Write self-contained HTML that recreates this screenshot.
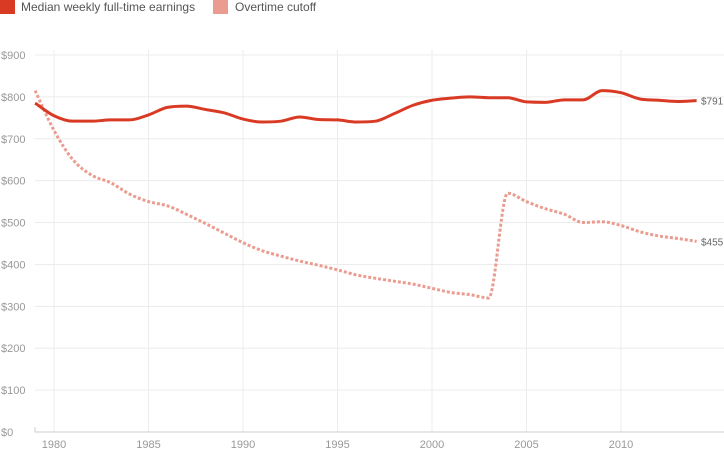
<!DOCTYPE html>
<html><head><meta charset="utf-8"><style>
body{margin:0;background:#fff;font-family:"Liberation Sans",sans-serif}
svg text{font-family:"Liberation Sans",sans-serif}
</style></head><body>
<svg id="c" width="724" height="450">
<g>
<rect x="0" y="0" width="15" height="14" fill="#d93a24"/>
<text x="21" y="11" font-size="12" fill="#555">Median weekly full-time earnings</text>
<rect x="213" y="0" width="15" height="14" fill="#eb9c90"/>
<text x="235" y="11" font-size="12" fill="#555">Overtime cutoff</text>
</g>
<g id="grid"></g>
<g id="series"></g>
</svg>
<script>
const years=[1979,1980,1981,1982,1983,1984,1985,1986,1987,1988,1989,1990,1991,1992,1993,1994,1995,1996,1997,1998,1999,2000,2001,2002,2003,2004,2005,2006,2007,2008,2009,2010,2011,2012,2013,2014];
const median=[785,755,742,742,745,745,757,775,778,770,762,747,740,742,752,746,745,740,742,760,780,792,797,800,798,798,788,787,793,793,815,810,795,792,789,791];
const overtime=[815,720,650,613,595,568,550,540,520,498,475,452,433,420,408,398,387,375,367,360,353,343,333,328,320,570,550,533,520,500,502,493,478,468,462,455];
const yTicks=[0,100,200,300,400,500,600,700,800,900];
const xTicks=[1980,1985,1990,1995,2000,2005,2010];
const NS='http://www.w3.org/2000/svg';
const x=v=>54+(v-1980)*18.9;
const y=v=>432-v*(377/900);
function mk(t,a,p){const e=document.createElementNS(NS,t);for(const k in a)e.setAttribute(k,a[k]);p.appendChild(e);return e;}
const g=document.getElementById('grid'),s=document.getElementById('series');
yTicks.forEach(v=>{
 if(v>0){const l=mk('line',{x1:35,x2:724,y1:y(v),y2:y(v),stroke:'#ececec','stroke-width':1},g);
 
 }
 const t=mk('text',{x:1,y:y(v)+4,'font-size':11,fill:'#999'},g);t.textContent='$'+v;
 
 
});
xTicks.forEach(v=>{
 const l=mk('line',{x1:x(v),x2:x(v),y1:y(900)-5,y2:y(0),stroke:'#ececec','stroke-width':1},g);
 
 
 const t=mk('text',{x:x(v),y:448,'font-size':11,fill:'#999','text-anchor':'middle'},g);t.textContent=v;
 
 
});
const ax=mk('path',{d:`M35,${y(0)-5}V${y(0)}H724`,stroke:'#ccc',fill:'none'},g);


function path(vals){
 const p=vals.map((v,i)=>[x(years[i]),y(v)]);const n=p.length;
 const dl=[],m=[];
 for(let i=0;i<n-1;i++)dl.push((p[i+1][1]-p[i][1])/(p[i+1][0]-p[i][0]));
 m[0]=dl[0];m[n-1]=dl[n-2];
 for(let i=1;i<n-1;i++)m[i]=(dl[i-1]*dl[i]<=0)?0:(dl[i-1]+dl[i])/2;
 for(let i=0;i<n-1;i++){if(dl[i]===0){m[i]=m[i+1]=0;continue;}
  const a=m[i]/dl[i],b=m[i+1]/dl[i],h=a*a+b*b;if(h>9){const t=3/Math.sqrt(h);m[i]=t*a*dl[i];m[i+1]=t*b*dl[i];}}
 let d=`M${p[0][0]},${p[0][1]}`;
 for(let i=0;i<n-1;i++){const h=(p[i+1][0]-p[i][0])/3;
  d+=`C${p[i][0]+h},${p[i][1]+m[i]*h} ${p[i+1][0]-h},${p[i+1][1]-m[i+1]*h} ${p[i+1][0]},${p[i+1][1]}`;}
 return d;}
const o=mk('path',{d:path(overtime),stroke:'#eb9c90',fill:'none','stroke-width':3,'stroke-dasharray':'3 2'},s);


const m=mk('path',{d:path(median),stroke:'#d93a24',fill:'none','stroke-width':3},s);


const l1=mk('text',{x:701,y:y(median[median.length-1])+4,'font-size':10,fill:'#666'},s);l1.textContent='$'+median[median.length-1];


const l2=mk('text',{x:701,y:y(overtime[overtime.length-1])+4,'font-size':10,fill:'#666'},s);l2.textContent='$'+overtime[overtime.length-1];


</script>
</body></html>
